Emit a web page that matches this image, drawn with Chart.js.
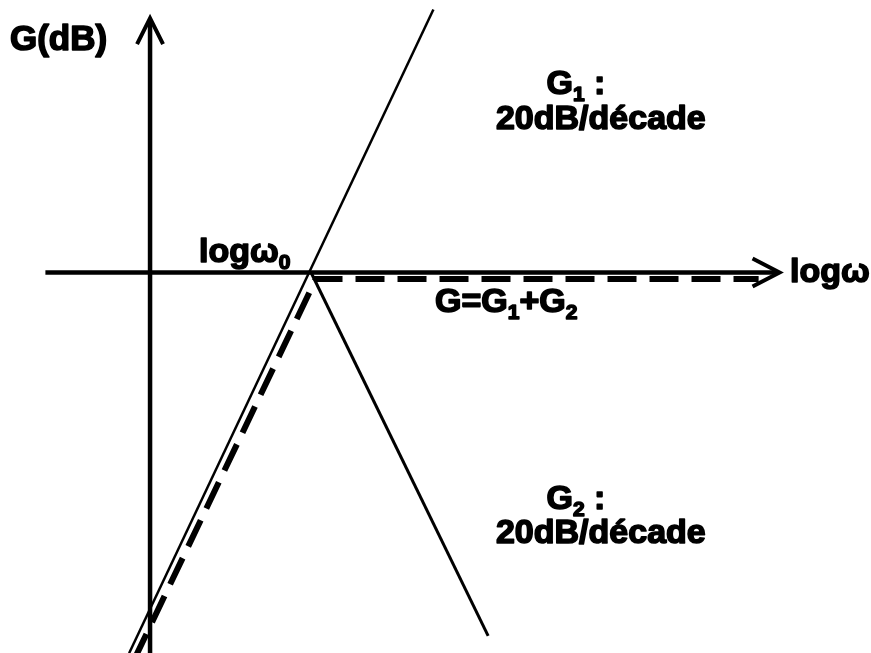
<!DOCTYPE html>
<html>
<head>
<meta charset="utf-8">
<title>Diagramme de Bode asymptotique</title>
<script src="https://cdn.jsdelivr.net/npm/chart.js@4/dist/chart.umd.min.js"></script>
<style>
  html, body { margin: 0; padding: 0; background: #ffffff; }
  #wrap { width: 871px; height: 653px; }
</style>
</head>
<body>
<div id="wrap"><canvas id="bode" width="871" height="653"></canvas></div>
<script>
// Asymptotes in (log ω in decades from the G axis, gain in dB); ω0 sits at log ω ≈ 1
const G1_LOGW = [-0.13, 1.76];
const G1_DB   = [-22, 15.2];
const G2_LOGW = [1.0, 2.1];
const G2_DB   = [0, -21];
const G_LOGW  = [-0.1, 1.03, 3.78];
const G_DB    = [-22.4, -0.37, -0.37];

// Extent of the two drawn axes (arrow tips at the positive ends)
const AXIS_LOGW = [-0.65, 3.91];
const AXIS_DB   = [-23, 14.7];

// Annotations: parts flagged sub are drawn as subscripts
const LABELS = [
  { x: -0.87, y: 13.6,  align: 'left',   size: 35, parts: [{ t: 'G(dB)' }] },
  { x: 2.645, y: 11.0,  align: 'center', size: 34, parts: [{ t: 'G' }, { t: '1', sub: true }, { t: ' :' }] },
  { x: 2.80,  y: 9.0,   align: 'center', size: 34, parts: [{ t: '20dB/décade' }] },
  { x: 0.304, y: 1.30,  align: 'left',   size: 34, parts: [{ t: 'logω' }, { t: '0', sub: true }] },
  { x: 3.975, y: 0.14,  align: 'left',   size: 34, parts: [{ t: 'logω' }] },
  { x: 1.77,  y: -1.59, align: 'left',   size: 34, parts: [{ t: 'G=G' }, { t: '1', sub: true }, { t: '+G' }, { t: '2', sub: true }] },
  { x: 2.645, y: -12.95, align: 'center', size: 34, parts: [{ t: 'G' }, { t: '2', sub: true }, { t: ' :' }] },
  { x: 2.80,  y: -14.95, align: 'center', size: 34, parts: [{ t: '20dB/décade' }] }
];

const X_MIN = -0.932, X_MAX = 4.478;
const Y_MIN = -21.99, Y_MAX = 15.75;

const zip = (xs, ys) => xs.map((v, i) => ({ x: v, y: ys[i] }));

function fontOf(size) { return 'bold ' + size + 'px "Liberation Sans", Arial, sans-serif'; }

function drawArrowHead(ctx, tx, ty, dirX, dirY, len, half) {
  const px = -dirY, py = dirX;
  ctx.beginPath();
  ctx.moveTo(tx - dirX * len + px * half, ty - dirY * len + py * half);
  ctx.lineTo(tx, ty);
  ctx.lineTo(tx - dirX * len - px * half, ty - dirY * len - py * half);
  ctx.stroke();
}

const axesPlugin = {
  id: 'bodeAxes',
  beforeDatasetsDraw(chart) {
    const { ctx, scales: { x, y } } = chart;
    const ox = x.getPixelForValue(0), oy = y.getPixelForValue(0);
    const x0 = x.getPixelForValue(AXIS_LOGW[0]), x1 = x.getPixelForValue(AXIS_LOGW[1]);
    const y0 = y.getPixelForValue(AXIS_DB[0]), y1 = y.getPixelForValue(AXIS_DB[1]);
    ctx.save();
    ctx.strokeStyle = '#000';
    ctx.lineWidth = 4.5;
    ctx.lineCap = 'butt';
    ctx.beginPath(); ctx.moveTo(x0, oy); ctx.lineTo(x1 - 2, oy); ctx.stroke();
    ctx.beginPath(); ctx.moveTo(ox, y0); ctx.lineTo(ox, y1 + 2); ctx.stroke();
    ctx.lineWidth = 4;
    ctx.lineJoin = 'miter';
    drawArrowHead(ctx, x1, oy, 1, 0, 27, 14);
    drawArrowHead(ctx, ox, y1, 0, -1, 26, 13);
    ctx.restore();
  }
};

const labelPlugin = {
  id: 'bodeLabels',
  afterDatasetsDraw(chart) {
    const { ctx, scales: { x, y } } = chart;
    ctx.save();
    ctx.fillStyle = '#000';
    ctx.strokeStyle = '#000';
    ctx.lineWidth = 1.6;
    ctx.lineJoin = 'round';
    ctx.textBaseline = 'alphabetic';
    ctx.textAlign = 'left';
    LABELS.forEach(lab => {
      const size = lab.size, subSize = Math.round(size * 0.62);
      let total = 0;
      const widths = lab.parts.map(p => {
        ctx.font = fontOf(p.sub ? subSize : size);
        const w = ctx.measureText(p.t).width;
        total += w;
        return w;
      });
      const px = x.getPixelForValue(lab.x), py = y.getPixelForValue(lab.y);
      let cx = lab.align === 'center' ? px - total / 2 : px;
      const base = py + size * 0.716 / 2;
      lab.parts.forEach((p, i) => {
        ctx.font = fontOf(p.sub ? subSize : size);
        const by = p.sub ? base + size * 0.2 : base;
        ctx.fillText(p.t, cx, by);
        ctx.strokeText(p.t, cx, by);
        cx += widths[i];
      });
    });
    ctx.restore();
  }
};

new Chart(document.getElementById('bode'), {
  type: 'scatter',
  data: {
    datasets: [
      { label: 'G1', data: zip(G1_LOGW, G1_DB), showLine: true, borderColor: '#000',
        borderWidth: 2.5, pointRadius: 0, tension: 0 },
      { label: 'G2', data: zip(G2_LOGW, G2_DB), showLine: true, borderColor: '#000',
        borderWidth: 3, pointRadius: 0, tension: 0 },
      { label: 'G', data: zip(G_LOGW, G_DB), showLine: true, borderColor: '#000',
        borderWidth: 6, borderDash: [29, 13], borderCapStyle: 'butt', borderJoinStyle: 'miter',
        pointRadius: 0, tension: 0 }
    ]
  },
  options: {
    responsive: false,
    maintainAspectRatio: false,
    animation: false,
    layout: { padding: 0 },
    plugins: { legend: { display: false }, tooltip: { enabled: false } },
    scales: {
      x: { type: 'linear', min: X_MIN, max: X_MAX, display: false },
      y: { type: 'linear', min: Y_MIN, max: Y_MAX, display: false }
    }
  },
  plugins: [axesPlugin, labelPlugin]
});
</script>
</body>
</html>
